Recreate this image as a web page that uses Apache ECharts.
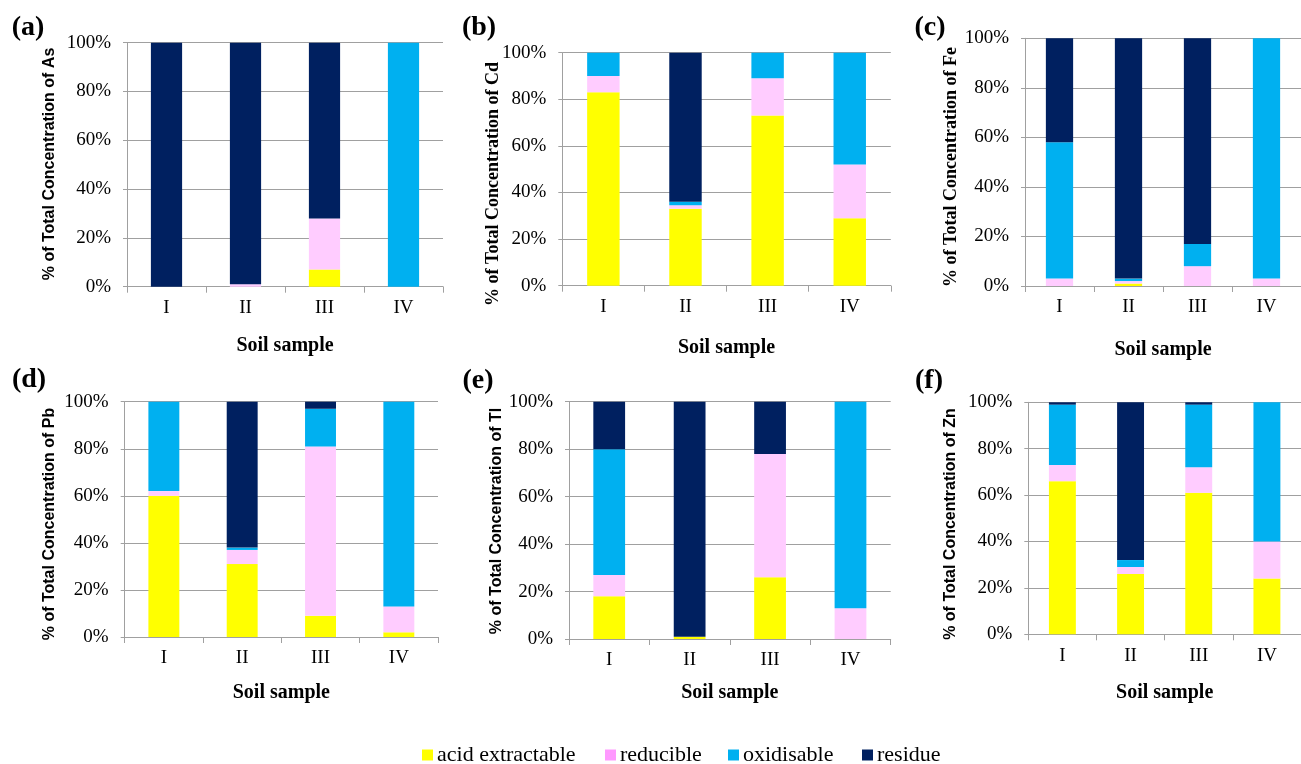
<!DOCTYPE html>
<html>
<head>
<meta charset="utf-8">
<script src="https://cdn.jsdelivr.net/npm/echarts@6/dist/echarts.min.js"></script>
<style>
  html, body { margin: 0; padding: 0; background: #fff; }
  #chart { width: 1301px; height: 764px; }
</style>
</head>
<body>
<div id="chart"></div>
<script>
// Soil samples on the category axis
const samples = ['I', 'II', 'III', 'IV'];
const fractions = ['acid extractable', 'reducible', 'oxidisable', 'residue'];
const fractionColors = ['#FFFF00', '#FFCCFF', '#00B0F0', '#002060'];
const legendColors = ['#FFFF00', '#FF99FF', '#00B0F0', '#002060'];
const yTicks = [0, 20, 40, 60, 80, 100];

// Per-element fraction shares (% of total concentration), one array per fraction, I..IV
const asAcid = [0, 0, 7, 0];
const asReducible = [0, 1, 21, 0];
const asOxidisable = [0, 0, 0, 100];
const asResidue = [100, 99, 72, 0];

const cdAcid = [83, 33, 73, 29];
const cdReducible = [7, 1.5, 16, 23];
const cdOxidisable = [10, 1.5, 11, 48];
const cdResidue = [0, 64, 0, 0];

const feAcid = [0, 1, 0, 0];
const feReducible = [3, 1, 8, 3];
const feOxidisable = [55, 1, 9, 97];
const feResidue = [42, 97, 83, 0];

const pbAcid = [60, 31, 9, 2];
const pbReducible = [2, 6, 72, 11];
const pbOxidisable = [38, 1, 16, 87];
const pbResidue = [0, 62, 3, 0];

const tlAcid = [18, 1, 26, 0];
const tlReducible = [9, 0, 52, 13];
const tlOxidisable = [53, 0, 0, 87];
const tlResidue = [20, 99, 22, 0];

const znAcid = [66, 26, 61, 24];
const znReducible = [7, 3, 11, 16];
const znOxidisable = [26, 3, 27, 60];
const znResidue = [1, 68, 1, 0];

const panels = [
  { tag: '(a)', element: 'As', data: [asAcid, asReducible, asOxidisable, asResidue] },
  { tag: '(b)', element: 'Cd', data: [cdAcid, cdReducible, cdOxidisable, cdResidue] },
  { tag: '(c)', element: 'Fe', data: [feAcid, feReducible, feOxidisable, feResidue] },
  { tag: '(d)', element: 'Pb', data: [pbAcid, pbReducible, pbOxidisable, pbResidue] },
  { tag: '(e)', element: 'Tl', data: [tlAcid, tlReducible, tlOxidisable, tlResidue] },
  { tag: '(f)', element: 'Zn', data: [znAcid, znReducible, znOxidisable, znResidue] }
];

// Panel geometry: plot rectangles, axis-title and tag anchors
const layout = [
  { grid: { left: 127, top: 42.7, width: 316, height: 244 }, nameGap: 49, title: { x: 50, y: 164, serif: false }, tagPos: [28, 28] },
  { grid: { left: 562.3, top: 52.7, width: 328.5, height: 233 }, nameGap: 52, title: { x: 493, y: 184, serif: true }, tagPos: [479, 28] },
  { grid: { left: 1025, top: 38.3, width: 285, height: 247.7 }, nameGap: 54, title: { x: 951, y: 167, serif: true }, tagPos: [930, 28] },
  { grid: { left: 124.7, top: 401.7, width: 313.3, height: 235.3 }, nameGap: 46, title: { x: 50, y: 524, serif: false }, tagPos: [29, 380] },
  { grid: { left: 569, top: 401.7, width: 321.7, height: 237.3 }, nameGap: 44, title: { x: 497, y: 521, serif: false }, tagPos: [478, 381] },
  { grid: { left: 1028.3, top: 402.3, width: 280.7, height: 232 }, nameGap: 49, title: { x: 951, y: 524, serif: false }, tagPos: [929, 381] }
];
// Left edge of each legend entry
const legendLefts = [417, 600, 723, 857];

const SERIF = '"Liberation Serif", "Times New Roman", serif';
const SANS = '"Liberation Sans", Arial, sans-serif';
const GRID_GRAY = '#a0a0a0';

const grids = [], xAxes = [], yAxes = [], series = [], graphics = [];

panels.forEach((p, i) => {
  const L = layout[i];
  grids.push(Object.assign({ containLabel: false }, L.grid));
  xAxes.push({
    type: 'category', gridIndex: i, data: samples,
    name: 'Soil sample', nameLocation: 'middle', nameGap: L.nameGap,
    nameTextStyle: { fontFamily: SERIF, fontWeight: 'bold', fontSize: 20, color: '#000' },
    axisLine: { lineStyle: { color: GRID_GRAY, width: 1 } },
    axisTick: { show: true, length: 6, lineStyle: { color: GRID_GRAY } },
    axisLabel: { fontFamily: SERIF, fontSize: 19, color: '#000', margin: 12 },
    splitLine: { show: false }
  });
  yAxes.push({
    type: 'value', gridIndex: i, min: yTicks[0], max: yTicks[yTicks.length - 1], interval: 20,
    axisLine: { show: true, lineStyle: { color: GRID_GRAY, width: 1 } },
    axisTick: { show: true, length: 4, lineStyle: { color: GRID_GRAY } },
    axisLabel: { fontFamily: SERIF, fontSize: 19, color: '#000', margin: 16, formatter: '{value}%' },
    splitLine: { show: true, lineStyle: { color: GRID_GRAY, width: 1 } }
  });
  p.data.forEach((vals, k) => {
    series.push({
      name: fractions[k], type: 'bar', stack: 'p' + i,
      xAxisIndex: i, yAxisIndex: i, data: vals,
      barWidth: '39.5%',
      itemStyle: { color: fractionColors[k] },
      emphasis: { disabled: true }
    });
  });
  graphics.push({
    type: 'text', x: L.title.x, y: L.title.y, rotation: Math.PI / 2,
    style: {
      text: '% of Total Concentration of ' + p.element,
      font: 'bold ' + (L.title.serif ? '18px ' + SERIF : '16px ' + SANS),
      fill: '#000', align: 'center', verticalAlign: 'middle',
      textAlign: 'center', textVerticalAlign: 'middle'
    }
  });
  graphics.push({
    type: 'text', x: L.tagPos[0], y: L.tagPos[1],
    style: {
      text: p.tag, font: 'bold 28px ' + SERIF, fill: '#000',
      align: 'center', verticalAlign: 'middle',
      textAlign: 'center', textVerticalAlign: 'middle'
    }
  });
});

// One legend entry per fraction, laid out along the bottom
const legends = fractions.map((name, k) => ({
  data: [{ name: name, itemStyle: { color: legendColors[k] } }],
  left: legendLefts[k], top: 739,
  icon: 'rect', itemWidth: 11, itemHeight: 11,
  textStyle: { fontFamily: SERIF, fontSize: 22, color: '#000', padding: [0, 0, 0, -1] }
}));

const chart = echarts.init(document.getElementById('chart'), null, { renderer: 'canvas' });
chart.setOption({
  animation: false,
  backgroundColor: '#fff',
  grid: grids,
  xAxis: xAxes,
  yAxis: yAxes,
  series: series,
  graphic: graphics,
  legend: legends
});
</script>
</body>
</html>
